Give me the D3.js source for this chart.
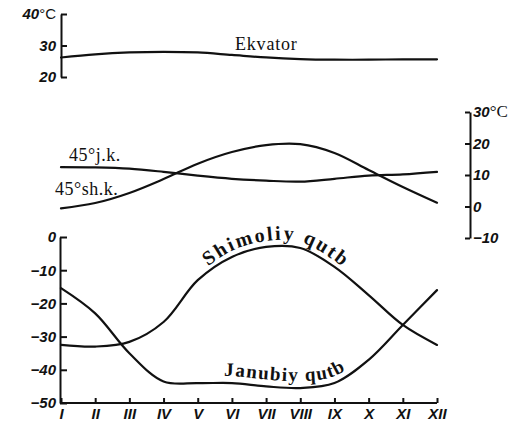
<!DOCTYPE html>
<html><head><meta charset="utf-8">
<script src="https://cdn.jsdelivr.net/npm/d3@7/dist/d3.min.js"></script>
<style>
html,body{margin:0;padding:0;background:#fff;}
svg{display:block}
</style></head><body>
<svg id="c" width="521" height="427"></svg>
<script>
// ---- data ----
const months   = ["I","II","III","IV","V","VI","VII","VIII","IX","X","XI","XII"];
const ekvator  = [26.2, 27.2, 27.8, 28.0, 27.8, 27.0, 26.2, 25.7, 25.5, 25.5, 25.6, 25.6];
const jk45     = [12.5, 12.4, 12.0, 11.0, 9.8, 8.8, 8.2, 7.9, 8.8, 9.8, 10.2, 11.0];
const shk45    = [-0.6, 1.1, 4.3, 8.7, 13.6, 17.3, 19.5, 19.8, 17.0, 11.6, 6.2, 1.2];
const shimoliy = [-32.5, -33, -31.6, -25.6, -13, -6, -3, -3.3, -9, -17.5, -26.5, -32.5];
const janubiy  = [-15.4, -23, -35, -43.5, -44, -44, -45, -45.5, -44, -37, -26.5, -16];
const topTicks = [20, 30, 40];
const midTicks = [-10, 0, 10, 20, 30];
const botTicks = [-50, -40, -30, -20, -10, 0];

const svg = d3.select("#c");
const INK = "#111";
const numFont = '"Liberation Sans", Arial, sans-serif';
const serif = '"Liberation Serif", "Times New Roman", serif';

const x = d3.scalePoint().domain(months).range([61, 437]);
const yTop = d3.scaleLinear().domain([20, 40]).range([77, 14]);
const yMid = d3.scaleLinear().domain([-10, 30]).range([238, 112]);
const yBot = d3.scaleLinear().domain([-50, 0]).range([403, 237]);

function styleAxis(g) {
  g.attr("font-family", numFont).attr("font-size", 15)
   .attr("font-weight", "bold").attr("font-style", "italic");
  g.select(".domain").attr("stroke", INK).attr("stroke-width", 2);
  g.selectAll(".tick line").attr("stroke", INK).attr("stroke-width", 2);
  g.selectAll(".tick text").attr("fill", INK);
}

// ---- top axis (equator) ----
const gTop = svg.append("g").attr("transform", "translate(61,0)")
  .call(d3.axisLeft(yTop).tickValues(topTicks).tickSizeInner(-6).tickSizeOuter(0).tickPadding(5));
styleAxis(gTop);
gTop.selectAll(".tick text").filter(d => d === 40)
  .append("tspan").attr("font-weight", "normal").attr("font-style", "normal").text("°C");

// ---- middle axis (right) ----
const gMid = svg.append("g").attr("transform", "translate(470,0)")
  .call(d3.axisRight(yMid).tickValues(midTicks).tickSizeInner(-5).tickSizeOuter(0).tickPadding(3));
styleAxis(gMid);
gMid.selectAll(".tick text").filter(d => d === 30)
  .append("tspan").attr("font-family", serif).attr("font-weight", "normal")
  .attr("font-style", "normal").attr("font-size", 17).text("°C");

// ---- bottom axes ----
const gBotY = svg.append("g").attr("transform", "translate(60,0)")
  .call(d3.axisLeft(yBot).tickValues(botTicks).tickSizeInner(-7).tickSizeOuter(0).tickPadding(4));
styleAxis(gBotY);
const gBotX = svg.append("g").attr("transform", "translate(0,403)")
  .call(d3.axisBottom(x).tickSizeInner(-5).tickSizeOuter(0).tickPadding(5));
styleAxis(gBotX);
gBotX.select(".domain").attr("d", `M${x.range()[0] - 1},0H${x.range()[1]}`);

// ---- curves ----
const curve = d3.curveCatmullRom.alpha(0.5);
function lineFor(yScale, off = 0) {
  return d3.line().x((d, i) => x(months[i])).y(d => yScale(d) + off).curve(curve);
}
function drawCurve(data, yScale) {
  svg.append("path").datum(data).attr("d", lineFor(yScale))
    .attr("fill", "none").attr("stroke", INK).attr("stroke-width", 2.2)
    .attr("stroke-linecap", "round");
}
drawCurve(ekvator, yTop);
drawCurve(jk45, yMid);
drawCurve(shk45, yMid);
drawCurve(shimoliy, yBot);
drawCurve(janubiy, yBot);

// ---- labels ----
svg.append("text").attr("x", 235).attr("y", 50).attr("font-family", serif)
  .attr("font-size", 18).attr("letter-spacing", 0.8).attr("fill", INK).text("Ekvator");
svg.append("text").attr("x", 69).attr("y", 161).attr("font-family", serif)
  .attr("font-size", 18).attr("letter-spacing", 0.5).attr("fill", INK).text("45°j.k.");
svg.append("text").attr("x", 55).attr("y", 195).attr("font-family", serif)
  .attr("font-size", 18).attr("letter-spacing", 0.5).attr("fill", INK).text("45°sh.k.");

// text following the polar curves
const defs = svg.append("defs");
function subLine(data, i0, i1, off) {
  const idx = d3.range(i0, i1 + 1);
  return d3.line().x(i => x(months[i])).y(i => yBot(data[i]) + off).curve(curve)(idx);
}
defs.append("path").attr("id", "pShim").attr("d", subLine(shimoliy, 4, 9, -6));
defs.append("path").attr("id", "pJan").attr("d", subLine(janubiy, 4, 10, -7));

svg.append("text").attr("font-family", serif).attr("font-size", 20).attr("font-weight", "bold")
  .attr("letter-spacing", 2.2).attr("fill", INK)
  .append("textPath").attr("href", "#pShim").attr("startOffset", "45%")
  .attr("text-anchor", "middle").text("Shimoliy qutb");
svg.append("text").attr("font-family", serif).attr("font-size", 19).attr("font-weight", "bold")
  .attr("letter-spacing", 1.4).attr("fill", INK)
  .append("textPath").attr("href", "#pJan").attr("startOffset", "39%")
  .attr("text-anchor", "middle").text("Janubiy qutb");
</script>
</body></html>
